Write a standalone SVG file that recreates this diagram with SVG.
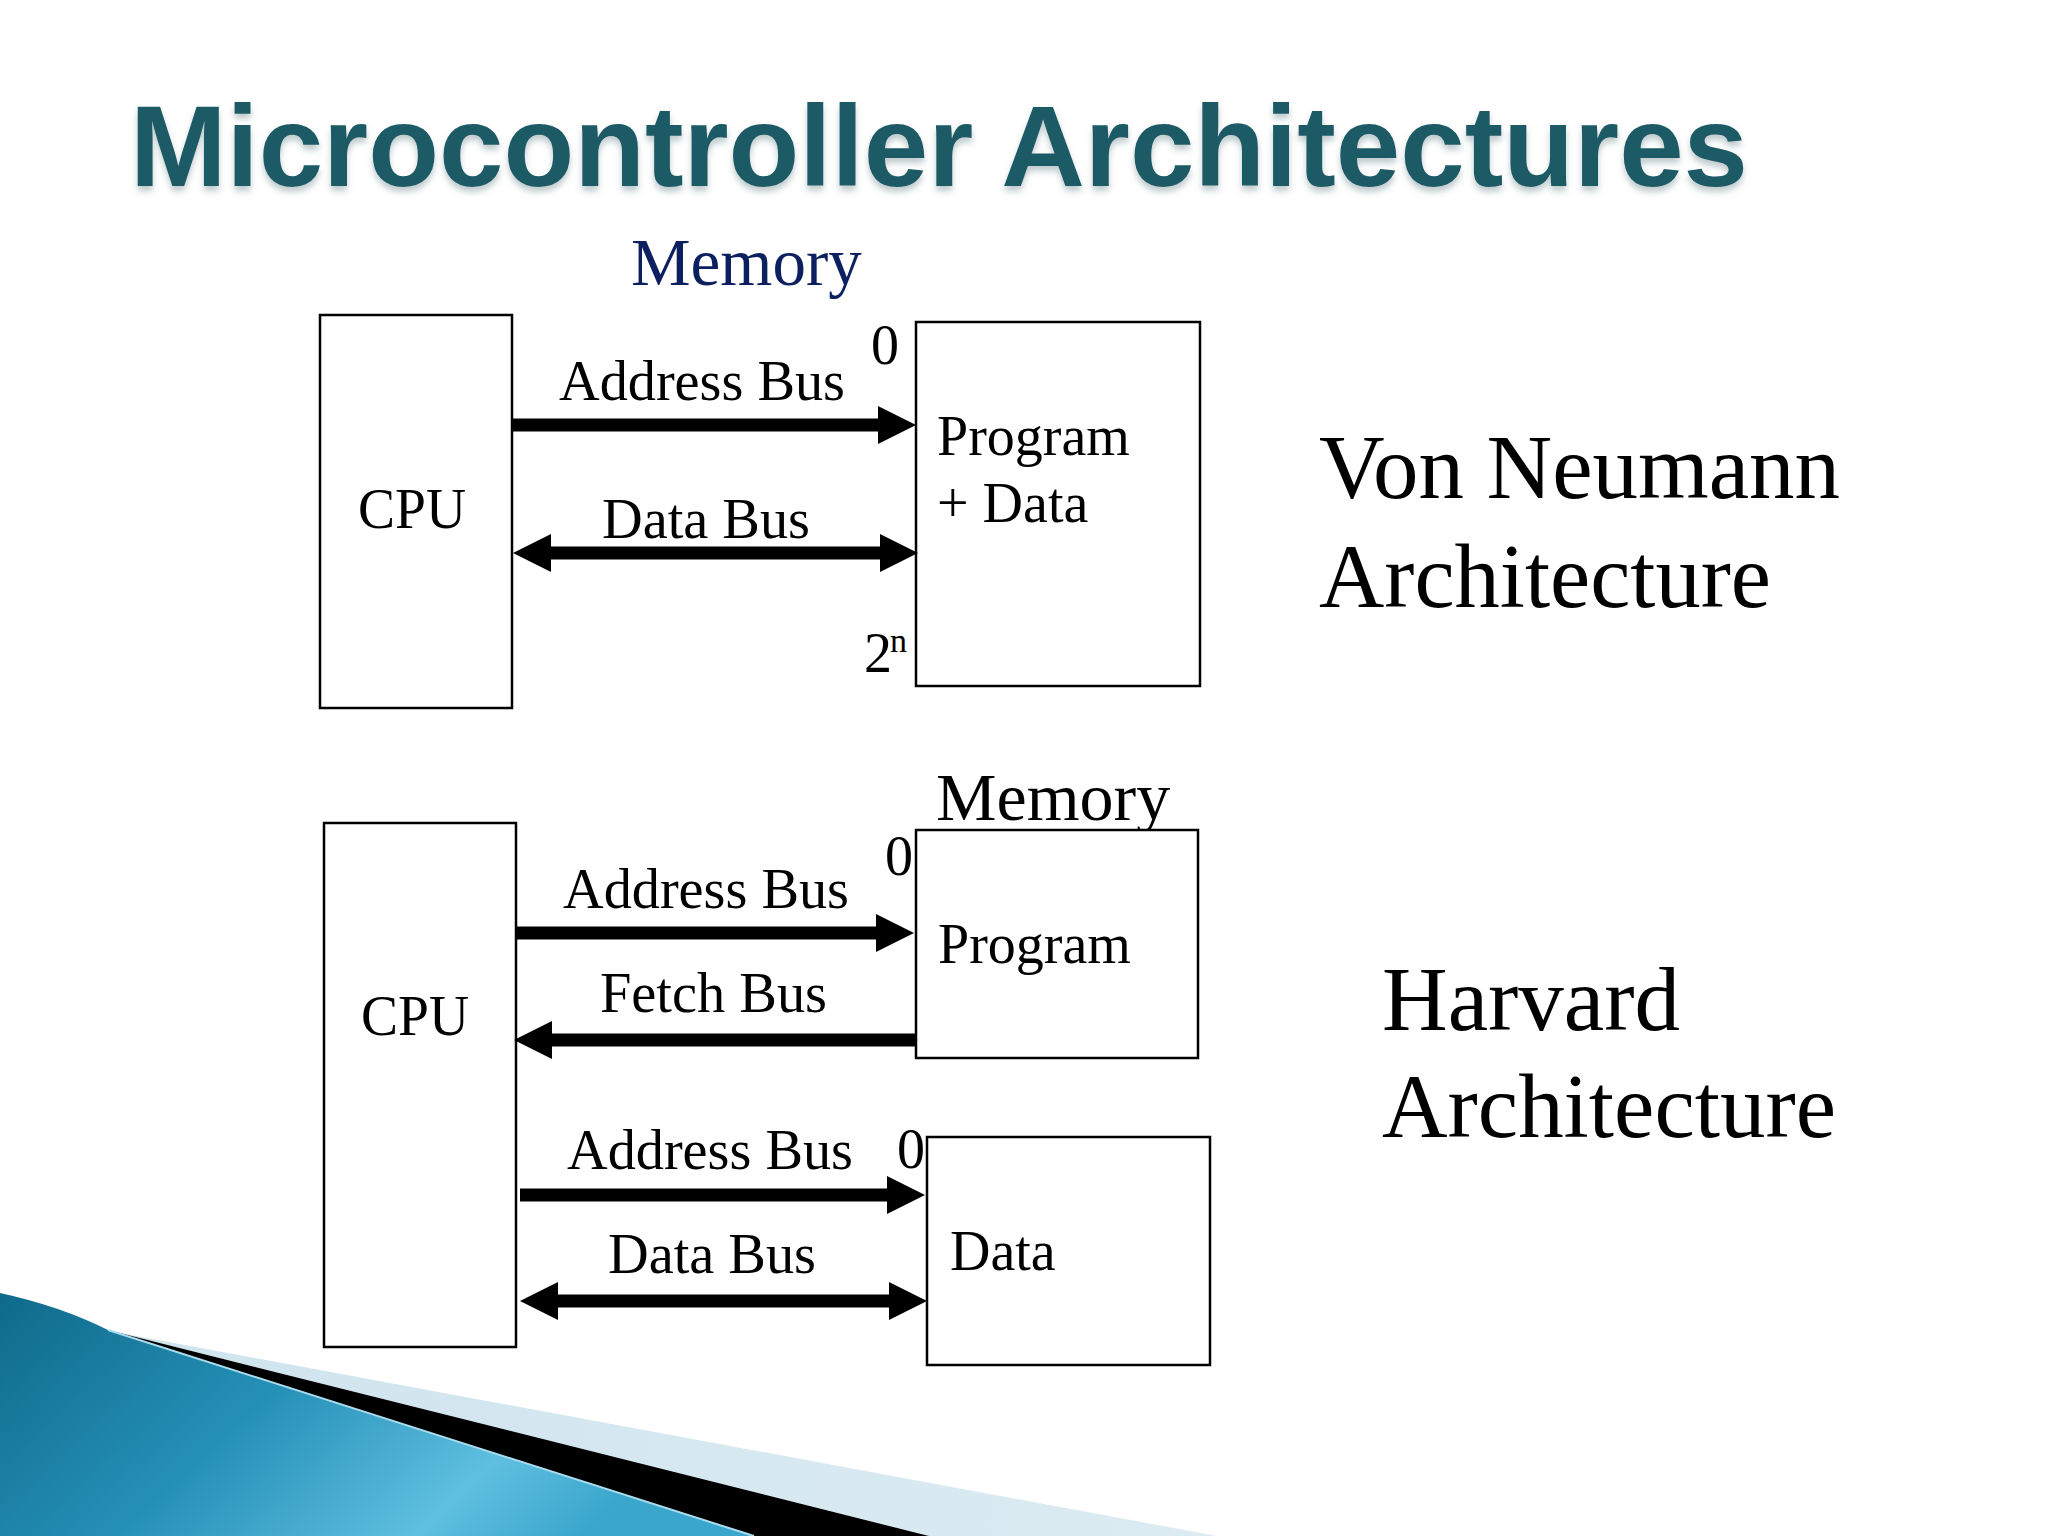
<svg xmlns="http://www.w3.org/2000/svg" width="2048" height="1536" viewBox="0 0 2048 1536">
  <defs>
    <style>
      .lbl { font-family: "Liberation Serif", "Times New Roman", serif; font-size: 56px; fill: #000; }
      .big { font-family: "Liberation Serif", "Times New Roman", serif; font-size: 91px; fill: #000; }
      .box { fill: #fff; stroke: #000; stroke-width: 2.5; }
      .bus { stroke: #000; stroke-width: 13; fill: none; }
      .title { font-family: "Liberation Sans", Arial, sans-serif; font-weight: bold; font-size: 115px; fill: #1c5a65; }
    </style>
    <marker id="ah" markerUnits="userSpaceOnUse" viewBox="0 0 38 38" refX="2" refY="19" markerWidth="38" markerHeight="38" orient="auto-start-reverse">
      <path d="M0,0 L38,19 L0,38 Z" fill="#000"/>
    </marker>
    <filter id="tshadow" x="-5%" y="-20%" width="110%" height="150%">
      <feDropShadow dx="0" dy="5" stdDeviation="3" flood-color="#6f8a90" flood-opacity="0.45"/>
    </filter>
    <linearGradient id="blueg" x1="0" y1="0" x2="1" y2="0.35">
      <stop offset="0" stop-color="#0f6a8a"/>
      <stop offset="0.45" stop-color="#2590b7"/>
      <stop offset="0.8" stop-color="#5fbfe0"/>
      <stop offset="1" stop-color="#3aa6cc"/>
    </linearGradient>
    <linearGradient id="lightg" x1="0" y1="0" x2="1" y2="0">
      <stop offset="0" stop-color="#cfe4ee"/>
      <stop offset="1" stop-color="#dcebf2"/>
    </linearGradient>
  </defs>

  <rect x="0" y="0" width="2048" height="1536" fill="#ffffff"/>

  <!-- decoration bottom-left -->
  <g id="decoration">
    <path d="M120,1333 L1217,1536 L929,1536 L108,1330 Z" fill="url(#lightg)"/>
    <path d="M108,1330 L929,1536 L754,1536 Z" fill="#000"/>
    <path d="M0,1293 Q60,1306 108,1330 L754,1536 L0,1536 Z" fill="url(#blueg)"/>
    <path d="M108,1330 L754,1536" stroke="#a9dcee" stroke-width="2" fill="none"/>
  </g>

  <!-- title -->
  <text class="title" x="130" y="186" textLength="1618" lengthAdjust="spacingAndGlyphs" filter="url(#tshadow)">Microcontroller Architectures</text>

  <!-- Von Neumann -->
  <g id="vn-memory-label">
    <text x="631" y="285" font-family="Liberation Serif, Times New Roman, serif" font-size="67" fill="#0c1f5e">Memory</text>
  </g>
  <g id="vn-cpu">
    <rect class="box" x="320" y="315" width="192" height="393"/>
    <text class="lbl" x="358" y="528" textLength="108" lengthAdjust="spacingAndGlyphs">CPU</text>
  </g>
  <g id="vn-memory">
    <rect class="box" x="916" y="322" width="284" height="364"/>
    <text class="lbl" x="937" y="455">Program</text>
    <text class="lbl" x="937" y="522">+ Data</text>
    <text class="lbl" x="871" y="364">0</text>
    <text class="lbl" x="864" y="672">2</text>
    <text x="890" y="652" font-family="Liberation Serif, Times New Roman, serif" font-size="34" fill="#000">n</text>
  </g>

  <!-- Harvard -->
  <g id="hv-memory-label">
    <text x="936" y="820" font-family="Liberation Serif, Times New Roman, serif" font-size="68" fill="#000">Memory</text>
  </g>
  <g id="hv-cpu">
    <rect class="box" x="324" y="823" width="192" height="524"/>
    <text class="lbl" x="361" y="1035" textLength="108" lengthAdjust="spacingAndGlyphs">CPU</text>
  </g>
  <g id="hv-program">
    <rect class="box" x="916" y="830" width="282" height="228"/>
    <text class="lbl" x="938" y="963">Program</text>
    <text class="lbl" x="885" y="875">0</text>
  </g>
  <g id="hv-data">
    <rect class="box" x="927" y="1137" width="283" height="228"/>
    <text class="lbl" x="950" y="1270">Data</text>
    <text class="lbl" x="897" y="1168">0</text>
  </g>

  <!-- connectors -->
  <g id="connectors">
    <line class="bus" x1="512" y1="425" x2="880" y2="425" marker-end="url(#ah)"/>
    <line class="bus" x1="549" y1="553" x2="882" y2="553" marker-start="url(#ah)" marker-end="url(#ah)"/>
    <line class="bus" x1="516" y1="933" x2="878" y2="933" marker-end="url(#ah)"/>
    <line class="bus" x1="916" y1="1040" x2="550" y2="1040" marker-end="url(#ah)"/>
    <line class="bus" x1="520" y1="1195" x2="889" y2="1195" marker-end="url(#ah)"/>
    <line class="bus" x1="556" y1="1301" x2="891" y2="1301" marker-start="url(#ah)" marker-end="url(#ah)"/>
    <text class="lbl" x="559" y="400" textLength="286" lengthAdjust="spacingAndGlyphs">Address Bus</text>
    <text class="lbl" x="602" y="538" textLength="208" lengthAdjust="spacingAndGlyphs">Data Bus</text>
    <text class="lbl" x="563" y="908" textLength="286" lengthAdjust="spacingAndGlyphs">Address Bus</text>
    <text class="lbl" x="600" y="1012" textLength="227" lengthAdjust="spacingAndGlyphs">Fetch Bus</text>
    <text class="lbl" x="567" y="1169" textLength="286" lengthAdjust="spacingAndGlyphs">Address Bus</text>
    <text class="lbl" x="608" y="1273" textLength="208" lengthAdjust="spacingAndGlyphs">Data Bus</text>
  </g>

  <g id="labels-right">
    <text class="big" x="1319" y="498" textLength="521" lengthAdjust="spacingAndGlyphs">Von Neumann</text>
    <text class="big" x="1319" y="607" textLength="452" lengthAdjust="spacingAndGlyphs">Architecture</text>
    <text class="big" x="1382" y="1030" textLength="298" lengthAdjust="spacingAndGlyphs">Harvard</text>
    <text class="big" x="1382" y="1137" textLength="454" lengthAdjust="spacingAndGlyphs">Architecture</text>
  </g>
</svg>
